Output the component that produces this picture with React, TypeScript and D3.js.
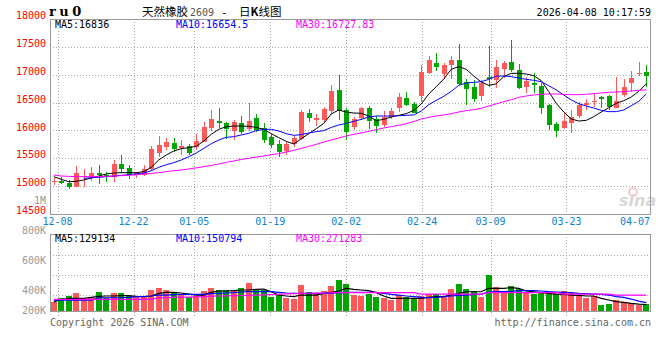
import React from "react";
import * as d3 from "d3";

// trading days shown (MM-DD)
const dates = [
  "12-05","12-08","12-09","12-10","12-11","12-12","12-15","12-16","12-17","12-18",
  "12-19","12-22","12-23","12-24","12-25","12-26","12-29","12-30","12-31","01-05",
  "01-06","01-07","01-08","01-09","01-12","01-13","01-14","01-15","01-16","01-19",
  "01-20","01-21","01-22","01-23","01-26","01-27","01-28","01-29","01-30","02-02",
  "02-03","02-04","02-05","02-06","02-09","02-10","02-11","02-12","02-13","02-24",
  "02-25","02-26","02-27","03-02","03-03","03-04","03-05","03-06","03-09","03-10",
  "03-11","03-12","03-13","03-16","03-17","03-18","03-19","03-20","03-23","03-24",
  "03-25","03-26","03-27","03-30","03-31","04-01","04-02","04-03","04-07","04-08",
];
const tickDates = ["12-08","12-22","01-05","01-19","02-02","02-24","03-09","03-23","04-07"];

const opens = [
  15070,15098,15062,14990,15180,15170,15230,15200,15170,15397,
  15326,15200,15200,15302,15601,15696,15780,15690,15720,15700,
  15798,16049,16169,16127,15996,16127,16020,16217,16037,15876,
  15756,15631,15756,15846,16307,16187,16187,16355,16726,16367,
  16068,16217,16397,16199,16097,16235,16397,16582,16474,16618,
  17025,17216,17013,17168,17264,16875,16785,16618,16965,16905,
  17096,17234,17084,16786,16857,16798,16456,16115,16037,16127,
  16259,16456,16504,16594,16618,16408,16636,16845,17013,17055,
];
const highs = [
  15140,15170,15110,15361,15302,15338,15373,15260,15469,15559,
  15379,15250,15379,15720,15900,15858,15864,15828,15756,15936,
  16157,16367,16397,16157,16187,16259,16486,16295,16139,15936,
  15828,15798,15900,16367,16379,16295,16426,16815,16995,16397,
  16235,16427,16439,16259,16355,16397,16678,16696,16517,17174,
  17336,17396,17204,17336,17551,16917,16905,16905,17516,17264,
  17252,17630,17192,16965,17025,16845,16474,16157,16319,16367,
  16516,16558,16678,16618,16636,16965,16917,17067,17234,17174,
];
const lows = [
  15020,15038,14948,14978,14990,15098,15038,15080,15080,15242,
  15122,15140,15182,15278,15529,15649,15613,15559,15559,15649,
  15798,15996,16037,15840,15828,15936,15996,15978,15768,15678,
  15529,15559,15708,15828,16157,16079,16157,16295,16187,15828,
  16008,16187,16020,15960,16068,16199,16337,16439,16307,16516,
  17007,17073,16917,16917,16815,16456,16516,16534,16773,16760,
  16935,17055,16738,16678,16666,16295,16008,15888,16020,15960,
  16217,16367,16426,16397,16367,16397,16594,16696,16977,16785,
];
const closes = [
  15085,15062,14990,15230,15190,15230,15194,15170,15397,15313,
  15200,15230,15302,15667,15738,15792,15660,15720,15600,15810,
  16055,16205,16127,16031,16157,15972,16169,16008,15828,15738,
  15613,15756,15870,16337,16223,16223,16385,16714,16355,15978,
  16199,16397,16175,16080,16235,16349,16606,16457,16319,17055,
  17264,17132,17174,17264,16833,16738,16558,16857,16917,17132,
  17204,17084,16756,16893,16809,16396,16097,15996,16169,16235,
  16456,16486,16528,16570,16426,16528,16786,16947,17025,16977,
];

// moving averages
const ma5 = [
  15170,15122,15080,15086,15110,15146,15182,15218,15236,15242,
  15242,15242,15260,15337,15469,15559,15631,15673,15690,15715,
  15810,15930,16020,16067,16079,16079,16073,16055,16020,15942,
  15870,15804,15756,15852,15942,16032,16127,16295,16367,16328,
  16313,16307,16259,16175,16199,16241,16271,16301,16361,16474,
  16654,16785,16923,17097,17145,17097,16977,16869,16809,16836,
  16965,17025,17025,17013,16983,16893,16696,16486,16331,16205,
  16169,16181,16247,16331,16408,16486,16534,16600,16700,16836,
];
const ma10 = [
  null,null,null,null,15140,15152,15158,15170,15182,15194,
  15206,15218,15236,15278,15337,15385,15421,15469,15529,15595,
  15678,15762,15828,15876,15888,15918,15948,15996,16020,16020,
  15990,15942,15912,15924,15954,15978,15996,16055,16097,16127,
  16163,16199,16241,16259,16259,16259,16265,16271,16277,16349,
  16462,16540,16612,16702,16809,16851,16863,16875,16917,16974,
  16977,16965,16941,16917,16899,16875,16803,16726,16636,16546,
  16480,16438,16402,16360,16337,16337,16367,16444,16522,16654.5,
];
const ma30 = [
  15200,15182,15176,15170,15170,15170,15170,15176,15182,15188,
  15194,15206,15218,15230,15242,15260,15278,15290,15308,15328,
  15350,15373,15397,15427,15451,15481,15499,15523,15541,15565,
  15583,15613,15643,15678,15714,15750,15792,15828,15864,15900,
  15930,15954,15984,16014,16044,16067,16091,16121,16160,16205,
  16235,16259,16277,16301,16331,16355,16373,16397,16439,16477,
  16516,16552,16594,16618,16636,16648,16654,16654,16648,16642,
  16642,16648,16660,16672,16684,16690,16696,16708,16720,16727.83,
];

// volume (thousand lots) and its moving averages
const volumes = [
  171,232,258,308,223,247,323,223,308,308,
  258,258,258,349,384,349,323,288,238,258,
  339,384,349,349,349,384,460,360,349,247,
  284,232,212,430,323,284,339,415,501,436,
  273,258,288,247,232,197,273,238,223,258,
  284,288,238,364,440,364,339,247,577,390,
  323,410,360,299,284,299,299,284,334,299,
  258,232,258,117,132,193,167,156,117,132,
];
const volMa5 = [
  167,207,223,223,223,238,253,258,258,263,
  263,253,248,258,299,314,314,304,288,273,
  273,314,334,334,339,349,349,360,364,323,
  273,258,248,273,273,273,299,314,334,375,
  360,349,339,309,258,223,223,223,223,223,
  238,248,248,273,299,323,323,323,375,375,
  375,385,375,334,323,309,299,288,283,273,
  268,258,258,223,197,172,162,147,136,129,
];
const volMa10 = [
  197,197,197,197,197,197,232,232,232,232,
  238,248,248,258,273,273,278,283,283,283,
  283,294,299,304,309,319,324,324,324,324,
  314,304,299,299,299,299,299,299,309,314,
  314,314,314,314,299,283,273,258,248,238,
  233,238,248,258,268,273,283,288,319,324,
  324,329,339,339,339,334,324,319,314,309,
  299,294,288,283,273,248,238,212,180,158,
];
const volMa30 = [
  207,207,207,207,207,207,207,207,207,207,
  207,207,207,207,230,235,238,240,242,245,
  250,255,258,260,262,265,270,273,276,280,
  285,290,293,296,300,302,304,306,308,309,
  309,309,309,309,309,309,309,309,309,288,
  288,288,288,288,288,288,288,288,309,309,
  309,309,309,309,309,309,309,309,288,288,
  288,288,288,288,288,273,273,273,273,273,
];

const priceTicks = [18000, 17500, 17000, 16500, 16000, 15500, 15000, 14500];
const volTickLabels = ["800K", "600K", "400K", "200K"];

// layout
const left = 50;
const right = 650;
const mainTop = 19;
const mainBottom = 214;
const volTop = 234;
const volBottom = 311;
const volLabelY = [231, 261, 291, 311];
const mono = "'DejaVu Sans Mono', monospace";
const cjk = "'Noto Sans CJK SC', sans-serif";
const UP = "#ff5858";
const DOWN = "#00a600";
const GRID = "#a8a8a8";

const xBand = d3.scaleBand<string>().domain(dates).range([left, right]);
const xGrid = d3.scalePoint<string>().domain(dates).range([left, right]);
const yPrice = d3.scaleLinear().domain([14500, 18000]).range([mainBottom, mainTop]);
const yVol = d3.scaleLinear().domain([0, 1200]).range([volBottom + 2, volTop]);

const cx = (i: number) => (xBand(dates[i]) as number) + xBand.bandwidth() / 2;

const priceLine = d3
  .line<number | null>()
  .defined(d => d != null)
  .x((d, i) => cx(i))
  .y(d => yPrice(d as number));
const volLine = d3
  .line<number>()
  .x((d, i) => cx(i))
  .y(d => yVol(d));

const App = () => {
  const gridXs = tickDates
    .filter(d => d !== "04-07")
    .map(d => Math.round(xGrid(d) as number) + 0.5);

  return (
    <div style={{ position: "absolute", left: 0, top: 0 }}>
      <svg width={660} height={360} style={{ display: "block", background: "#fff" }}>
        {/* header */}
        <text x={49} y={16} fontFamily="'DejaVu Serif', serif" fontWeight="bold" fontSize={13} letterSpacing={3.5}>
          ru0
        </text>
        <text x={142} y={16} fontSize={11.5} fontFamily={cjk}>天然橡胶</text>
        <text x={190} y={15.5} fontFamily={mono} fontSize={10} fill="#555">2609</text>
        <text x={221} y={15.5} fontFamily={mono} fontSize={11}>-</text>
        <text x={239} y={16} fontSize={11.5} fontFamily={cjk}>
          <tspan>日</tspan>
          <tspan fontWeight="bold">K</tspan>
          <tspan>线图</tspan>
        </text>
        <text x={651} y={15.5} textAnchor="end" fontFamily={mono} fontSize={10}>
          2026-04-08 10:17:59
        </text>

        {/* main grid */}
        {priceTicks.slice(1, -1).map(t => (
          <line key={t} x1={left} x2={right} y1={Math.round(yPrice(t)) + 0.5} y2={Math.round(yPrice(t)) + 0.5}
            stroke={GRID} strokeDasharray="1 2" />
        ))}
        {gridXs.map(x => (
          <line key={"m" + x} x1={x} x2={x} y1={mainTop} y2={mainBottom} stroke={GRID} strokeDasharray="1 2" />
        ))}
        {gridXs.map(x => (
          <line key={"v" + x} x1={x} x2={x} y1={volTop} y2={volBottom + 7} stroke={GRID} strokeDasharray="1 2" />
        ))}
        {[255.3, 275, 294.7].map(y => (
          <line key={y} x1={left} x2={right} y1={Math.round(y) + 0.5} y2={Math.round(y) + 0.5}
            stroke={GRID} strokeDasharray="1 2" />
        ))}

        {/* watermark */}
        <g opacity={0.55}>
          <circle cx={633} cy={192} r={4} fill="none" stroke="#e8a0a0" strokeWidth={2} />
          <text x={619} y={206} fontFamily="'DejaVu Sans', sans-serif" fontStyle="italic" fontWeight="bold"
            fontSize={16} fill="#b8b8b8">
            sina
          </text>
        </g>

        {/* price axis labels */}
        {priceTicks.map(t => (
          <text key={t} x={46} y={yPrice(t) - 2.8} textAnchor="end" dominantBaseline="middle"
            fontFamily={mono} fontSize={10} fill="#ff0000">
            {t}
          </text>
        ))}
        <text x={46} y={201} textAnchor="end" dominantBaseline="middle" fontFamily={mono} fontSize={10} fill="#999">
          1M
        </text>

        {/* candles */}
        {dates.map((d, i) => {
          const o = opens[i];
          const c = closes[i];
          const up = c >= o;
          const col = up ? UP : DOWN;
          const xc = Math.round(cx(i));
          const top = Math.round(yPrice(Math.max(o, c)));
          const bot = Math.round(yPrice(Math.min(o, c)));
          return (
            <g key={d}>
              <line x1={xc + 0.5} x2={xc + 0.5} y1={Math.round(yPrice(highs[i]))} y2={Math.round(yPrice(lows[i]))}
                stroke={col} />
              <rect x={xc - 2} y={top} width={5} height={Math.max(1, bot - top)} fill={col} />
            </g>
          );
        })}

        {/* moving averages */}
        <path d={priceLine(ma5) ?? ""} fill="none" stroke="#000" strokeWidth={1} />
        <path d={priceLine(ma10) ?? ""} fill="none" stroke="#0000ff" strokeWidth={1} />
        <path d={priceLine(ma30) ?? ""} fill="none" stroke="#ff00ff" strokeWidth={1} />

        {/* main frame */}
        <rect x={left + 0.5} y={mainTop + 0.5} width={right - left} height={mainBottom - mainTop}
          fill="none" stroke="#999" />
        <text x={55} y={25} dominantBaseline="middle" fontFamily={mono} fontSize={10} fill="#000">MA5:16836</text>
        <text x={176} y={25} dominantBaseline="middle" fontFamily={mono} fontSize={10} fill="#0000ff">MA10:16654.5</text>
        <text x={296} y={25} dominantBaseline="middle" fontFamily={mono} fontSize={10} fill="#ff00ff">MA30:16727.83</text>

        {/* date labels */}
        {tickDates.map(d => {
          const x = xGrid(d) as number;
          const clamp = x + 15 > right;
          return (
            <text key={d} x={clamp ? right : x} y={222} textAnchor={clamp ? "end" : "middle"}
              dominantBaseline="middle" fontFamily={mono} fontSize={10} fill="#0a84d0">
              {d}
            </text>
          );
        })}

        {/* volume bars */}
        {dates.map((d, i) => {
          const up = closes[i] >= opens[i];
          const xc = Math.round(cx(i));
          const y = Math.round(yVol(volumes[i]));
          return <rect key={"b" + d} x={xc - 3} y={y} width={6} height={volBottom - y} fill={up ? UP : DOWN} />;
        })}
        <path d={volLine(volMa5) ?? ""} fill="none" stroke="#000" strokeWidth={1.2} />
        <path d={volLine(volMa10) ?? ""} fill="none" stroke="#0000ff" strokeWidth={1.2} />
        <path d={volLine(volMa30) ?? ""} fill="none" stroke="#ff00ff" strokeWidth={1.2} />

        <rect x={left + 0.5} y={volTop + 0.5} width={right - left} height={volBottom - volTop}
          fill="none" stroke="#999" />
        {volTickLabels.map((t, i) => (
          <text key={t} x={46} y={volLabelY[i]} textAnchor="end" dominantBaseline="middle"
            fontFamily={mono} fontSize={10} fill="#999">
            {t}
          </text>
        ))}
        <text x={55} y={239} dominantBaseline="middle" fontFamily={mono} fontSize={10} fill="#000">MA5:129134</text>
        <text x={176} y={239} dominantBaseline="middle" fontFamily={mono} fontSize={10} fill="#0000ff">MA10:150794</text>
        <text x={296} y={239} dominantBaseline="middle" fontFamily={mono} fontSize={10} fill="#ff00ff">MA30:271283</text>

        {/* footer */}
        <text x={50} y={323} dominantBaseline="middle" fontFamily={mono} fontSize={10} fill="#666">
          Copyright 2026 SINA.COM
        </text>
        <text x={651} y={323} textAnchor="end" dominantBaseline="middle" fontFamily={mono} fontSize={10} fill="#666">
          http://finance.sina.com.cn
        </text>
      </svg>
    </div>
  );
};

export default App;
